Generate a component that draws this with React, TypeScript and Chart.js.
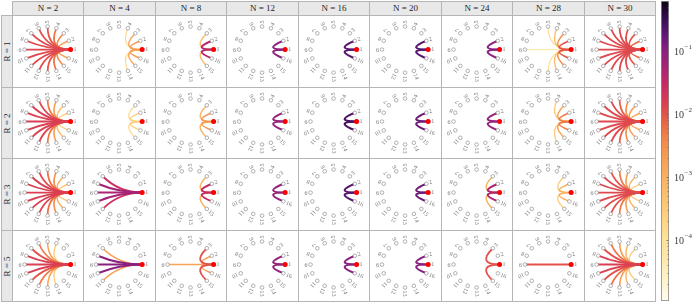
import React, { useEffect, useRef } from "react";
import { Chart, registerables } from "chart.js";
Chart.register(...registerables);

// ---------------- data ----------------
const nValues = [2, 4, 8, 12, 16, 20, 24, 28, 30];
const rValues = [1, 2, 3, 5];
const nodeLabels = ["1", "2", "3", "4", "5", "6", "7", "8", "9", "10", "11", "12", "13", "14", "15", "16"];
// target nodes of the edges, all starting at node 1
const targetNodes = [2, 3, 4, 5, 6, 7, 8, 9, 10, 11, 12, 13, 14, 15, 16];

// weights per column (N), per target node 2..16
const weightsR1: number[][] = [
  [1.6e-3, 3.5e-3, 6e-3, 9e-3, 1.1e-2, 1.2e-2, 1.2e-2, 1.3e-2, 1.2e-2, 1.2e-2, 1.1e-2, 9e-3, 6e-3, 3.5e-3, 1.6e-3],
  [2e-3, 1.2e-3, 1.5e-4, 0, 0, 0, 0, 0, 0, 0, 0, 0, 1.5e-4, 1.2e-3, 2e-3],
  [4e-2, 6e-4, 0, 0, 0, 0, 0, 0, 0, 0, 0, 0, 0, 6e-4, 4e-2],
  [1e-1, 0, 0, 0, 0, 0, 0, 0, 0, 0, 0, 0, 0, 0, 1e-1],
  [2e-1, 0, 0, 0, 0, 0, 0, 0, 0, 0, 0, 0, 0, 0, 2e-1],
  [2e-1, 0, 0, 0, 0, 0, 0, 0, 0, 0, 0, 0, 0, 0, 2e-1],
  [1e-1, 0, 0, 0, 0, 0, 0, 0, 0, 0, 0, 0, 0, 0, 1e-1],
  [1e-2, 2.5e-3, 5e-4, 1e-4, 0, 0, 0, 5e-5, 0, 0, 0, 1e-4, 5e-4, 2.5e-3, 1e-2],
  [7e-3, 9e-3, 1.1e-2, 1.2e-2, 1.2e-2, 1.2e-2, 1.2e-2, 1.2e-2, 1.2e-2, 1.2e-2, 1.2e-2, 1.2e-2, 1.1e-2, 9e-3, 7e-3],
];
const weightsR2: number[][] = [
  [3e-4, 6e-4, 2e-3, 5e-3, 1.3e-2, 1.5e-2, 1.5e-2, 1.5e-2, 1.5e-2, 1.5e-2, 1.3e-2, 5e-3, 2e-3, 6e-4, 3e-4],
  [3e-4, 1.5e-4, 0, 0, 0, 0, 0, 0, 0, 0, 0, 0, 0, 1.5e-4, 3e-4],
  [2.5e-3, 8e-4, 0, 0, 0, 0, 0, 0, 0, 0, 0, 0, 0, 8e-4, 2.5e-3],
  [8e-2, 0, 0, 0, 0, 0, 0, 0, 0, 0, 0, 0, 0, 0, 8e-2],
  [2.5e-1, 0, 0, 0, 0, 0, 0, 0, 0, 0, 0, 0, 0, 0, 2.5e-1],
  [1.5e-1, 0, 0, 0, 0, 0, 0, 0, 0, 0, 0, 0, 0, 0, 1.5e-1],
  [8e-2, 0, 0, 0, 0, 0, 0, 0, 0, 0, 0, 0, 0, 0, 8e-2],
  [5e-3, 1.5e-3, 3e-4, 0, 0, 0, 0, 0, 0, 0, 0, 0, 3e-4, 1.5e-3, 5e-3],
  [1e-3, 2e-3, 3e-3, 8e-3, 1.2e-2, 1.2e-2, 1.2e-2, 1.2e-2, 1.2e-2, 1.2e-2, 1.2e-2, 8e-3, 3e-3, 2e-3, 1e-3],
];
const weightsR3: number[][] = [
  [4e-4, 1e-3, 3e-3, 6e-3, 1.2e-2, 1.5e-2, 1.5e-2, 1.5e-2, 1.5e-2, 1.5e-2, 1.2e-2, 6e-3, 3e-3, 1e-3, 4e-4],
  [0, 0, 0, 0, 0, 2.5e-2, 6e-2, 5e-2, 6e-2, 2.5e-2, 0, 0, 0, 0, 0],
  [3e-2, 1e-3, 0, 0, 0, 0, 0, 0, 0, 0, 0, 0, 0, 1e-3, 3e-2],
  [8e-2, 0, 0, 0, 0, 0, 0, 0, 0, 0, 0, 0, 0, 0, 8e-2],
  [2e-1, 0, 0, 0, 0, 0, 0, 0, 0, 0, 0, 0, 0, 0, 2e-1],
  [1.5e-1, 0, 0, 0, 0, 0, 0, 0, 0, 0, 0, 0, 0, 0, 1.5e-1],
  [5e-2, 1e-3, 0, 0, 0, 0, 0, 0, 0, 0, 0, 0, 0, 1e-3, 5e-2],
  [1e-3, 3e-4, 0, 0, 0, 0, 0, 0, 0, 0, 0, 0, 0, 3e-4, 1e-3],
  [3e-4, 8e-4, 2e-3, 5e-3, 1e-2, 1.2e-2, 1.2e-2, 1.2e-2, 1.2e-2, 1.2e-2, 1e-2, 5e-3, 2e-3, 8e-4, 3e-4],
];
const weightsR5: number[][] = [
  [0, 0, 3e-4, 1.5e-3, 5e-3, 1e-2, 1.5e-2, 1.5e-2, 1.5e-2, 1e-2, 5e-3, 1.5e-3, 3e-4, 0, 0],
  [0, 0, 0, 0, 0, 2e-3, 1e-1, 1e-1, 1e-1, 2e-3, 0, 0, 0, 0, 0],
  [2e-3, 1e-2, 0, 0, 0, 0, 0, 1.5e-3, 0, 0, 0, 0, 0, 1e-2, 2e-3],
  [8e-2, 0, 0, 0, 0, 0, 0, 0, 0, 0, 0, 0, 0, 0, 8e-2],
  [1e-1, 0, 0, 0, 0, 0, 0, 0, 0, 0, 0, 0, 0, 0, 1e-1],
  [1e-1, 0, 0, 0, 0, 0, 0, 0, 0, 0, 0, 0, 0, 0, 1e-1],
  [0, 1e-2, 0, 0, 0, 0, 0, 0, 0, 0, 0, 0, 0, 1e-2, 0],
  [0, 0, 0, 0, 0, 0, 0, 1e-2, 0, 0, 0, 0, 0, 0, 0],
  [0, 3e-4, 8e-4, 2e-3, 6e-3, 1e-2, 1.4e-2, 1.5e-2, 1.4e-2, 1e-2, 6e-3, 2e-3, 8e-4, 3e-4, 0],
];
const weightsByRow = [weightsR1, weightsR2, weightsR3, weightsR5];

const colorbarTicks = [1e-1, 1e-2, 1e-3, 1e-4];
const colorbarTickExponents = ["1", "2", "3", "4"];
const colorMin = 1.07e-5;
const colorMax = 0.62;

// colormap stops: position (0 = low, 1 = high) and colour
const cmapStops: [number, string][] = [
  [0.0, "#fffcee"],
  [0.07, "#fff3cc"],
  [0.137, "#fee9ae"],
  [0.203, "#fde19a"],
  [0.27, "#fdd485"],
  [0.337, "#fcc472"],
  [0.413, "#f9b060"],
  [0.47, "#f7a054"],
  [0.537, "#f2884a"],
  [0.587, "#ec6a45"],
  [0.627, "#e2504a"],
  [0.67, "#d83a54"],
  [0.72, "#c82b62"],
  [0.77, "#ad2472"],
  [0.833, "#8a2180"],
  [0.887, "#611877"],
  [0.937, "#380d57"],
  [1.0, "#0c0410"],
];

// ---------------- helpers ----------------
function hexToRgb(h: string) {
  return [parseInt(h.slice(1, 3), 16), parseInt(h.slice(3, 5), 16), parseInt(h.slice(5, 7), 16)];
}
function norm(w: number) {
  const t = (Math.log10(w) - Math.log10(colorMin)) / (Math.log10(colorMax) - Math.log10(colorMin));
  return Math.max(0, Math.min(1, t));
}
function cmap(t: number) {
  for (let i = 0; i < cmapStops.length - 1; i++) {
    const [t0, c0] = cmapStops[i];
    const [t1, c1] = cmapStops[i + 1];
    if (t <= t1) {
      const f = (t - t0) / (t1 - t0);
      const a = hexToRgb(c0), b = hexToRgb(c1);
      const r = a.map((v, j) => Math.round(v + (b[j] - v) * f));
      return `rgb(${r[0]},${r[1]},${r[2]})`;
    }
  }
  return cmapStops[cmapStops.length - 1][1];
}

const W = 692, H = 303;
const GRID_LEFT = 12, GRID_TOP = 15, GRID_RIGHT = 655, GRID_BOTTOM = 301;
const COLW = (GRID_RIGHT - GRID_LEFT) / nValues.length;
const ROWH = (GRID_BOTTOM - GRID_TOP) / rValues.length;
const PX_PER_UNIT = 26.5;
const CENTER_FROM_TOP = 34.3;
const SERIF = "'Liberation Serif', 'DejaVu Serif', serif";

function Cell({ row, col }: { row: number; col: number }) {
  const ref = useRef<HTMLCanvasElement>(null);
  const x0 = Math.round(GRID_LEFT + col * COLW);
  const x1 = Math.round(GRID_LEFT + (col + 1) * COLW);
  const y0 = Math.round(GRID_TOP + row * ROWH);
  const y1 = Math.round(GRID_TOP + (row + 1) * ROWH);
  const cl = x0 + 1, ct = y0 + 1, cwid = x1 - x0 - 1, chei = y1 - y0 - 1;
  useEffect(() => {
    const weights = weightsByRow[row][col];
    const n = nodeLabels.length;
    const nodes = nodeLabels.map((_, i) => ({
      x: Math.cos((i * 2 * Math.PI) / n),
      y: Math.sin((i * 2 * Math.PI) / n),
    }));
    const cxo = (x0 + x1) / 2 - cl;
    const cyo = y0 + CENTER_FROM_TOP - ct;
    const edgePlugin = {
      id: "edges",
      beforeDatasetsDraw(chart: any) {
        const { ctx, scales } = chart;
        const meta = chart.getDatasetMeta(0);
        const src = meta.data[0];
        const cx = scales.x.getPixelForValue(0);
        const cy = scales.y.getPixelForValue(0);
        const edges = targetNodes
          .map((k, i) => ({ k, w: weights[i] }))
          .filter((e) => e.w > 0)
          .sort((a, b) => a.w - b.w);
        ctx.save();
        ctx.lineCap = "round";
        for (const e of edges) {
          const t = meta.data[e.k - 1];
          ctx.beginPath();
          ctx.moveTo(src.x, src.y);
          ctx.quadraticCurveTo(cx, cy, t.x, t.y);
          ctx.strokeStyle = cmap(norm(e.w));
          ctx.lineWidth = 0.9 + 0.3 * (Math.log10(e.w) + 5);
          ctx.stroke();
        }
        ctx.restore();
      },
    };
    const labelPlugin = {
      id: "nodeLabels",
      afterDatasetsDraw(chart: any) {
        const { ctx } = chart;
        const meta = chart.getDatasetMeta(0);
        ctx.save();
        ctx.fillStyle = "#7a7a7a";
        ctx.font = `6px ${SERIF}`;
        ctx.textAlign = "left";
        ctx.textBaseline = "middle";
        meta.data.forEach((pt: any, i: number) => {
          const ang = (i * 2 * Math.PI) / n;
          ctx.save();
          ctx.translate(pt.x, pt.y);
          ctx.rotate(-ang);
          ctx.fillText(nodeLabels[i], 3.0, 0.3);
          ctx.restore();
        });
        ctx.restore();
      },
    };
    const chart = new Chart(ref.current as HTMLCanvasElement, {
      type: "scatter",
      data: {
        datasets: [
          {
            data: nodes,
            order: 2,
            pointRadius: 1.8,
            pointBackgroundColor: "#ffffff",
            pointBorderColor: "#808080",
            pointBorderWidth: 0.6,
          },
          {
            data: [nodes[0]],
            order: 1,
            pointRadius: 2.5,
            pointBackgroundColor: "#ff0000",
            pointBorderColor: "#ff0000",
            pointBorderWidth: 0,
          },
        ],
      },
      options: {
        responsive: false,
        animation: false,
        events: [],
        layout: { padding: 0 },
        plugins: { legend: { display: false }, tooltip: { enabled: false } },
        scales: {
          x: { type: "linear", display: false, min: -cxo / PX_PER_UNIT, max: (cwid - cxo) / PX_PER_UNIT },
          y: { type: "linear", display: false, min: -(chei - cyo) / PX_PER_UNIT, max: cyo / PX_PER_UNIT },
        },
      },
      plugins: [edgePlugin, labelPlugin],
    } as any);
    return () => chart.destroy();
  }, []);
  return (
    <canvas
      ref={ref}
      width={cwid}
      height={chei}
      style={{ position: "absolute", left: cl, top: ct, width: cwid, height: chei }}
    />
  );
}

function Colorbar() {
  const ref = useRef<HTMLCanvasElement>(null);
  const left = 655, width = W - 655;
  useEffect(() => {
    const gradPlugin = {
      id: "cbar",
      beforeDatasetsDraw(chart: any) {
        const { ctx, chartArea: a, scales } = chart;
        const g = ctx.createLinearGradient(0, a.bottom, 0, a.top);
        cmapStops.forEach(([t, c]) => g.addColorStop(t, c));
        ctx.save();
        ctx.fillStyle = g;
        ctx.fillRect(a.left, a.top, a.right - a.left, a.bottom - a.top);
        // minor ticks
        ctx.strokeStyle = "#555";
        ctx.lineWidth = 0.7;
        for (let e = -5; e <= 0; e++) {
          for (let m = 1; m <= 9; m++) {
            const v = m * Math.pow(10, e);
            if (v < colorMin || v > colorMax) continue;
            const py = Math.round(scales.y.getPixelForValue(v)) + 0.5;
            const len = m === 1 ? 2.5 : 1.5;
            ctx.beginPath();
            ctx.moveTo(a.right - len, py);
            ctx.lineTo(a.right, py);
            ctx.stroke();
          }
        }
        ctx.strokeStyle = "#8a8a8a";
        ctx.lineWidth = 0.8;
        ctx.strokeRect(a.left + 0.4, a.top + 0.4, a.right - a.left - 0.8, a.bottom - a.top - 0.8);
        // labels
        ctx.fillStyle = "#3a3a3a";
        ctx.textBaseline = "alphabetic";
        ctx.textAlign = "left";
        colorbarTicks.forEach((v, i) => {
          const py = scales.y.getPixelForValue(v);
          ctx.font = `10px ${SERIF}`;
          ctx.fillText("10", a.right + 5, py + 4);
          const w10 = ctx.measureText("10").width;
          ctx.font = `7px ${SERIF}`;
          ctx.fillText("\u2212" + colorbarTickExponents[i], a.right + 5 + w10 + 0.5, py - 2);
        });
        ctx.restore();
      },
    };
    const chart = new Chart(ref.current as HTMLCanvasElement, {
      type: "scatter",
      data: { datasets: [{ data: [] }] },
      options: {
        responsive: false,
        animation: false,
        events: [],
        layout: { padding: { left: 6, right: 23, top: 1, bottom: 2 } },
        plugins: { legend: { display: false }, tooltip: { enabled: false } },
        scales: {
          x: { type: "linear", display: false, min: 0, max: 1 },
          y: { type: "logarithmic", display: false, min: colorMin, max: colorMax },
        },
      },
      plugins: [gradPlugin],
    } as any);
    return () => chart.destroy();
  }, []);
  return (
    <canvas ref={ref} width={width} height={H} style={{ position: "absolute", left, top: 0, width, height: H }} />
  );
}

export default function App() {
  useEffect(() => {
    document.body.style.margin = "0";
  }, []);
  const border = "#b5b5b5";
  const strips: React.ReactNode[] = [];
  nValues.forEach((nv, c) => {
    const x0 = Math.round(GRID_LEFT + c * COLW);
    const x1 = Math.round(GRID_LEFT + (c + 1) * COLW);
    strips.push(
      <div
        key={"h" + c}
        style={{
          position: "absolute", left: x0, top: 1, width: x1 - x0 + 1, height: GRID_TOP, boxSizing: "border-box",
          background: "#e8e8e8", border: `1px solid ${border}`, font: `9px ${SERIF}`, color: "#1e1e1e",
          display: "flex", alignItems: "center", justifyContent: "center", lineHeight: 1,
        }}
      >
        {`N = ${nv}`}
      </div>
    );
  });
  rValues.forEach((rv, r) => {
    const y0 = Math.round(GRID_TOP + r * ROWH);
    const y1 = Math.round(GRID_TOP + (r + 1) * ROWH);
    strips.push(
      <div
        key={"r" + r}
        style={{
          position: "absolute", left: 1, top: y0, width: GRID_LEFT, height: y1 - y0 + 1, boxSizing: "border-box",
          background: "#e8e8e8", border: `1px solid ${border}`, display: "flex", alignItems: "center", justifyContent: "center",
        }}
      >
        <div style={{ transform: "rotate(-90deg)", whiteSpace: "nowrap", font: `9px ${SERIF}`, color: "#1e1e1e", lineHeight: 1 }}>
          {`R = ${rv}`}
        </div>
      </div>
    );
  });
  const panels: React.ReactNode[] = [];
  rValues.forEach((_, r) => {
    nValues.forEach((_, c) => {
      const x0 = Math.round(GRID_LEFT + c * COLW);
      const x1 = Math.round(GRID_LEFT + (c + 1) * COLW);
      const y0 = Math.round(GRID_TOP + r * ROWH);
      const y1 = Math.round(GRID_TOP + (r + 1) * ROWH);
      panels.push(
        <div
          key={`p${r}-${c}`}
          style={{ position: "absolute", left: x0, top: y0, width: x1 - x0 + 1, height: y1 - y0 + 1, boxSizing: "border-box", border: `1px solid ${border}` }}
        />
      );
      panels.push(<Cell key={`c${r}-${c}`} row={r} col={c} />);
    });
  });
  return (
    <div style={{ position: "absolute", left: 0, top: 0, width: W, height: H, background: "#fff", overflow: "hidden" }}>
      {strips}
      {panels}
      <Colorbar />
    </div>
  );
}
